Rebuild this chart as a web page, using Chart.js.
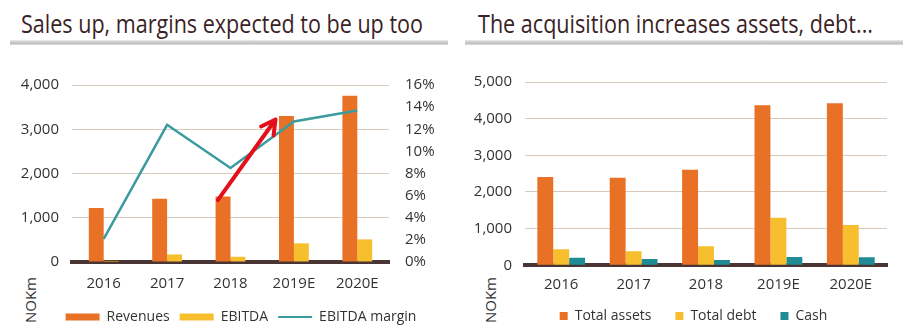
<!DOCTYPE html>
<html>
<head>
<meta charset="utf-8">
<script src="https://cdn.jsdelivr.net/npm/chart.js@4/dist/chart.umd.min.js"></script>
<style>
  html, body { margin: 0; padding: 0; background: #fff; overflow: hidden; }
  body { width: 917px; height: 333px; position: relative; font-family: "Open Sans", sans-serif; }
  .titulo { position: absolute; top: 11px; font-size: 25px; line-height: 1; color: #3b1f26; white-space: nowrap; transform-origin: left top; }
  .barra { position: absolute; top: 40px; height: 5px; background: linear-gradient(#ececec, #bdbdbd 60%, #dcdcdc); }
  .unidad { position: absolute; font-size: 15px; color: #333; transform: translate(-50%, -50%) rotate(-90deg); white-space: nowrap; }
  canvas { position: absolute; top: 60px; }
</style>
</head>
<body>
<div class="titulo" id="titulo-izq" style="left:21px">Sales up, margins expected to be up too</div>
<div class="barra" style="left:10px;width:438px"></div>
<div class="titulo" id="titulo-der" style="left:478px">The acquisition increases assets, debt...</div>
<div class="barra" style="left:465px;width:438px"></div>
<div class="unidad" style="left:30px;top:300px">NOKm</div>
<div class="unidad" style="left:490px;top:300px">NOKm</div>
<canvas id="grafico-ventas" width="482" height="274" style="left:0"></canvas>
<canvas id="grafico-balance" width="447" height="273" style="left:470px"></canvas>
<script>
// Datos
const anios = ['2016', '2017', '2018', '2019E', '2020E'];
const ingresos = [1220, 1430, 1480, 3300, 3755];
const ebitda = [25, 170, 118, 422, 511];
const margenEbitda = [2.1, 12.4, 8.5, 12.7, 13.7];
const activosTotales = [2410, 2390, 2605, 4365, 4420];
const deudaTotal = [438, 384, 519, 1298, 1100];
const caja = [205, 170, 142, 223, 220];
// flecha roja: inicio y fin en unidades de datos (indice de categoria, NOKm)
const flechaInicio = [1.8, 1400];
const flechaFin = [2.71, 3220];

const NARANJA = '#e97125';
const AMARILLO = '#f7bf2e';
const TEAL_LINEA = '#3b9c9f';
const TEAL_CAJA = '#1f8b94';
const REJILLA = '#d8cabd';
const EJE = '#4a3434';
const TEXTO = '#333333';
const fuente = { family: '"Open Sans", sans-serif', size: 15 };

Chart.defaults.font.family = '"Open Sans", sans-serif';
Chart.defaults.color = TEXTO;

function ajustarTitulo(id, ancho) {
    const el = document.getElementById(id);
    const w = el.getBoundingClientRect().width;
    el.style.transform = `scaleX(${ancho / w})`;
}
ajustarTitulo('titulo-izq', 402);
ajustarTitulo('titulo-der', 395);

const pluginFlecha = {
    id: 'flecha',
    afterDatasetsDraw(chart) {
        const x = chart.scales.x, y = chart.scales.y;
        const x0 = x.getPixelForValue(flechaInicio[0]), y0 = y.getPixelForValue(flechaInicio[1]);
        const x1 = x.getPixelForValue(flechaFin[0]), y1 = y.getPixelForValue(flechaFin[1]);
        const ang = Math.atan2(y1 - y0, x1 - x0);
        const ctx = chart.ctx;
        ctx.save();
        ctx.strokeStyle = '#e3101b';
        ctx.lineWidth = 4;
        ctx.lineCap = 'round';
        ctx.lineJoin = 'round';
        ctx.beginPath();
        ctx.moveTo(x0, y0);
        ctx.lineTo(x1, y1);
        ctx.moveTo(x1 - 16 * Math.cos(ang - 0.5), y1 - 16 * Math.sin(ang - 0.5));
        ctx.lineTo(x1, y1);
        ctx.lineTo(x1 - 16 * Math.cos(ang + 0.5), y1 - 16 * Math.sin(ang + 0.5));
        ctx.stroke();
        ctx.restore();
    }
};

function etiquetasLeyenda(chart, separar) {
    const items = Chart.defaults.plugins.legend.labels.generateLabels(chart);
    items.sort((a, b) => a.datasetIndex - b.datasetIndex);
    items.forEach((it, i) => {
        const ds = chart.data.datasets[it.datasetIndex];
        if (ds.type === 'line') {
            it.pointStyle = 'line';
            it.strokeStyle = ds.borderColor;
            it.lineWidth = 2;
        } else {
            it.pointStyle = 'rect';
            it.lineWidth = 0;
        }
        // espacio extra entre elementos de la leyenda
        if (separar && i < items.length - 1) it.text += '\u2003';
    });
    return items;
}

// Grafico izquierdo: ventas y margen
new Chart(document.getElementById('grafico-ventas'), {
    type: 'bar',
    data: {
        labels: anios,
        datasets: [
            { label: 'Revenues', data: ingresos, backgroundColor: NARANJA, order: 1 },
            { label: 'EBITDA', data: ebitda, backgroundColor: AMARILLO, order: 1 },
            { type: 'line', label: 'EBITDA margin', data: margenEbitda, yAxisID: 'y1',
              borderColor: TEAL_LINEA, backgroundColor: TEAL_LINEA, borderWidth: 2.5,
              pointRadius: 0, tension: 0, order: 0 }
        ]
    },
    options: {
        responsive: false,
        animation: false,
        layout: { padding: { top: 22 } },
        datasets: { bar: { categoryPercentage: 0.47, barPercentage: 1 } },
        plugins: {
            tooltip: { enabled: false },
            legend: {
                position: 'bottom',
                labels: {
                    usePointStyle: true, pointStyleWidth: 34, boxHeight: 7, padding: 10,
                    font: { size: 14 }, color: TEXTO,
                    generateLabels: c => etiquetasLeyenda(c, false)
                }
            }
        },
        scales: {
            x: {
                grid: { display: false },
                border: { color: EJE, width: 4 },
                ticks: { font: fuente, color: TEXTO, padding: 5 },
                afterFit(s) { s.height = 38; }
            },
            y: {
                min: 0, max: 4000,
                ticks: { stepSize: 1000, font: fuente, color: TEXTO, padding: 13 },
                grid: { color: REJILLA, drawTicks: false, lineWidth: 1 },
                border: { display: false },
                afterFit(s) { s.width = 72; }
            },
            y1: {
                position: 'right',
                min: 0, max: 16,
                ticks: { stepSize: 2, font: fuente, color: TEXTO, padding: 16, callback: v => v + '%' },
                grid: { display: false, drawTicks: false },
                border: { display: false },
                afterFit(s) { s.width = 93; }
            }
        }
    },
    plugins: [pluginFlecha]
});

// Grafico derecho: balance
new Chart(document.getElementById('grafico-balance'), {
    type: 'bar',
    data: {
        labels: anios,
        datasets: [
            { label: 'Total assets', data: activosTotales, backgroundColor: NARANJA },
            { label: 'Total debt', data: deudaTotal, backgroundColor: AMARILLO },
            { label: 'Cash', data: caja, backgroundColor: TEAL_CAJA }
        ]
    },
    options: {
        responsive: false,
        animation: false,
        layout: { padding: { top: 19 } },
        datasets: { bar: { categoryPercentage: 0.66, barPercentage: 1 } },
        plugins: {
            tooltip: { enabled: false },
            legend: {
                position: 'bottom',
                labels: {
                    usePointStyle: true, pointStyleWidth: 8, boxHeight: 8, padding: 10,
                    font: { size: 14 }, color: TEXTO,
                    generateLabels: c => etiquetasLeyenda(c, true)
                }
            }
        },
        scales: {
            x: {
                grid: { display: false },
                border: { color: EJE, width: 4 },
                ticks: { font: fuente, color: TEXTO, padding: 2 },
                afterFit(s) { s.height = 33.7; }
            },
            y: {
                min: 0, max: 5000,
                ticks: { stepSize: 1000, font: fuente, color: TEXTO, padding: 13 },
                grid: { color: REJILLA, drawTicks: false, lineWidth: 1 },
                border: { display: false },
                afterFit(s) { s.width = 55; }
            },
            margenDer: {
                position: 'right',
                ticks: { display: false },
                grid: { display: false, drawTicks: false },
                border: { display: false },
                afterFit(s) { s.width = 30; }
            }
        }
    }
});
</script>
</body>
</html>
